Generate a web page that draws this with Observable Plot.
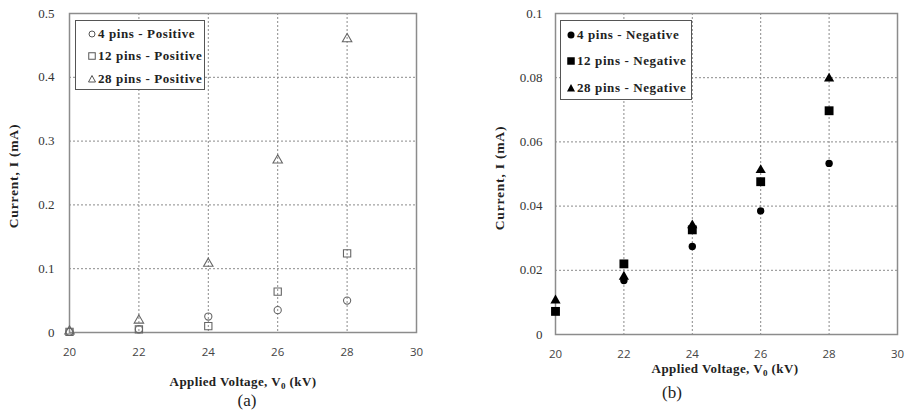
<!DOCTYPE html>
<html>
<head>
<meta charset="utf-8">
<script src="https://cdn.jsdelivr.net/npm/d3@7"></script>
<script src="https://cdn.jsdelivr.net/npm/@observablehq/plot@0.6"></script>
<style>
  html, body { margin: 0; padding: 0; background: #fff; }
  #wrap { position: relative; width: 912px; height: 420px; overflow: hidden; font-family: 'Liberation Serif', 'DejaVu Serif', serif; }
  .panel { position: absolute; top: 0; }
  .lbl { position: absolute; transform: translate(-50%, -50%); white-space: nowrap; color: #222; font-family: 'Liberation Serif', 'DejaVu Serif', serif; }
  .ttl { font-weight: bold; font-size: 13px; letter-spacing: 0.4px; }
  .ytl { transform: translate(-50%, -50%) rotate(-90deg); font-size: 13.5px; letter-spacing: 0.8px; }
  .cap { font-size: 17px; }
  .legend { position: absolute; border: 1px solid #555; background: #fff; font-weight: bold; font-size: 13px; letter-spacing: 0.6px; color: #222; box-sizing: border-box; font-family: 'Liberation Serif', 'DejaVu Serif', serif; }
  .legend .row { position: absolute; left: 0; display: flex; align-items: center; white-space: nowrap; }
  .legend svg { display: block; margin-right: 1px; }
  sub { font-size: 9px; vertical-align: -3px; }
</style>
</head>
<body>
<div id="wrap"></div>
<script>
// ---- data ----
const voltages = [20, 22, 24, 26, 28];
const xTicks = [20, 22, 24, 26, 28, 30];
const posYTicks = [0, 0.1, 0.2, 0.3, 0.4, 0.5];
const negYTicks = [0, 0.02, 0.04, 0.06, 0.08, 0.1];

const pos4 = [0.001, 0.005, 0.025, 0.035, 0.05];
const pos12 = [0.001, 0.005, 0.01, 0.064, 0.124];
const pos28 = [0.002, 0.019, 0.108, 0.27, 0.46];

const neg4 = [0.0072, 0.0168, 0.0274, 0.0385, 0.0533];
const neg12 = [0.0072, 0.022, 0.0326, 0.0476, 0.0697];
const neg28 = [0.0106, 0.018, 0.034, 0.0512, 0.0797];

const posNames = ["4 pins - Positive", "12 pins - Positive", "28 pins - Positive"];
const negNames = ["4 pins - Negative", "12 pins - Negative", "28 pins - Negative"];
const symbols = ["circle", "square", "triangle"];

const xTitle = "Applied Voltage, V<sub>0</sub> (kV)";
const yTitle = "Current, I (mA)";

const serif = "'Liberation Serif', 'DejaVu Serif', serif";

function rows(values) { return voltages.map((v, i) => ({x: v, y: values[i]})); }

function panel({series, yDomain, yTicks, filled, rSizes, width, marginLeft, marginRight, marginBottom, tickPadY}) {
  const marks = [
    Plot.gridX([22, 24, 26, 28], {stroke: "#8a8a8a", strokeOpacity: 1, strokeDasharray: "2,2", strokeWidth: 1}),
    Plot.gridY(yTicks.slice(1, -1), {stroke: "#8a8a8a", strokeOpacity: 1, strokeDasharray: "2,2", strokeWidth: 1}),
    Plot.frame({stroke: "#8c8c8c", strokeWidth: 1.5}),
    Plot.axisX(xTicks, {tickSize: 0, tickPadding: 15, fontFamily: "'Open Sans'", fontSize: 11.5, fill: "#444", label: null}),
    Plot.axisY(yTicks, {tickSize: 0, tickPadding: tickPadY, fontFamily: serif, fontSize: 13, fill: "#333", label: null, tickFormat: d3.format("")})
  ];
  series.forEach((vals, i) => {
    marks.push(Plot.dot(rows(vals), {
      x: "x", y: "y", symbol: symbols[i], r: rSizes[i],
      fill: filled ? "#000" : "none",
      stroke: filled ? "none" : "#666",
      strokeWidth: 1.1
    }));
  });
  return Plot.plot({
    width, height: 360,
    marginTop: 13, marginBottom, marginLeft, marginRight,
    style: {fontFamily: serif},
    x: {domain: [20, 30], label: null},
    y: {domain: yDomain, label: null},
    marks
  });
}

const wrap = document.getElementById("wrap");

const left = panel({
  series: [pos4, pos12, pos28], yDomain: [0, 0.5], yTicks: posYTicks, filled: false,
  rSizes: [3.6, 4.1, 3.5], width: 456, marginLeft: 69, marginRight: 40, marginBottom: 28, tickPadY: 15
});
left.classList.add("panel"); left.style.left = "0px";
wrap.appendChild(left);

const right = panel({
  series: [neg4, neg12, neg28], yDomain: [0, 0.1], yTicks: negYTicks, filled: true,
  rSizes: [3.7, 5, 3.8], width: 456, marginLeft: 99, marginRight: 15, marginBottom: 26, tickPadY: 13
});
right.classList.add("panel"); right.style.left = "456px";
wrap.appendChild(right);

function addLabel(html, x, y, cls) {
  const d = document.createElement("div");
  d.className = "lbl " + cls;
  d.innerHTML = html;
  d.style.left = x + "px"; d.style.top = y + "px";
  wrap.appendChild(d);
}
addLabel(yTitle, 14, 176, "ttl ytl");
addLabel(yTitle, 500, 178, "ttl ytl");
addLabel(xTitle, 243, 382, "ttl");
addLabel(xTitle, 725, 369, "ttl");
addLabel("(a)", 247, 401, "cap");
addLabel("(b)", 672, 393, "cap");

function symSvg(kind, filled, size) {
  const s = 10, c = s / 2;
  const fill = filled ? "#000" : "none", stroke = filled ? "none" : "#555";
  let shape;
  if (kind === "circle") shape = `<circle cx="${c}" cy="${c}" r="${size/2}" fill="${fill}" stroke="${stroke}"/>`;
  else if (kind === "square") shape = `<rect x="${c - size/2}" y="${c - size/2}" width="${size}" height="${size}" fill="${fill}" stroke="${stroke}"/>`;
  else shape = `<polygon points="${c},${c - size/2} ${c + size/2},${c + size/2 - 0.5} ${c - size/2},${c + size/2 - 0.5}" fill="${fill}" stroke="${stroke}"/>`;
  return `<svg width="${s}" height="${s}">${shape}</svg>`;
}

function addLegend(names, filled, box, rowYs, symSizes) {
  const lg = document.createElement("div");
  lg.className = "legend";
  Object.assign(lg.style, {left: box.x + "px", top: box.y + "px", width: box.w + "px", height: box.h + "px"});
  names.forEach((n, i) => {
    const r = document.createElement("div");
    r.className = "row";
    r.style.top = (rowYs[i] - box.y - 8) + "px";
    r.style.left = box.pad + "px";
    r.style.height = "16px";
    r.innerHTML = symSvg(symbols[i], filled, symSizes[i]) + `<span>${n}</span>`;
    lg.appendChild(r);
  });
  wrap.appendChild(lg);
}
addLegend(posNames, false, {x: 75, y: 20, w: 130, h: 70, pad: 11}, [33, 55, 78], [6, 6.5, 7]);
addLegend(negNames, true, {x: 560, y: 20, w: 132, h: 80, pad: 5}, [34, 60, 87], [7, 7.5, 8]);
</script>
</body>
</html>
